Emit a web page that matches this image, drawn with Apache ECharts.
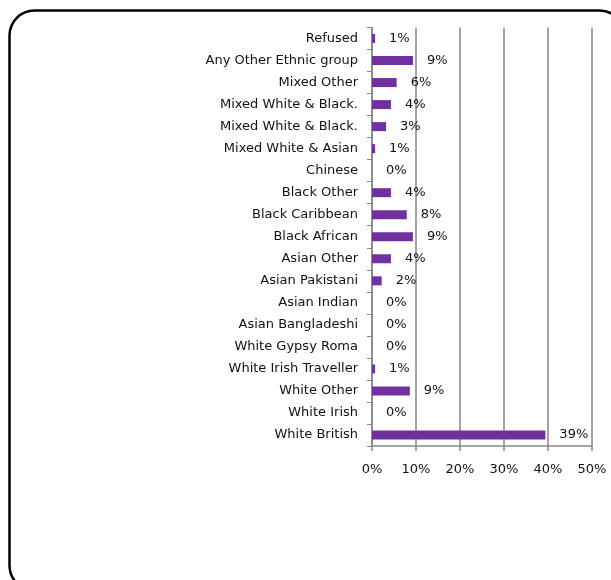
<!DOCTYPE html>
<html>
<head>
<meta charset="utf-8">
<script src="https://cdn.jsdelivr.net/npm/echarts@6/dist/echarts.min.js"></script>
<style>
html,body{margin:0;padding:0;background:#fff;}
#chart{width:611px;height:580px;}
</style>
</head>
<body>
<div id="chart"></div>
<script>
// Categories listed bottom to top
const categories = [
  'White British','White Irish','White Other','White Irish Traveller','White Gypsy Roma',
  'Asian Bangladeshi','Asian Indian','Asian Pakistani','Asian Other','Black African',
  'Black Caribbean','Black Other','Chinese','Mixed White & Asian','Mixed White & Black.',
  'Mixed White & Black.','Mixed Other','Any Other Ethnic group','Refused'
];
const values = [39.4, 0, 8.6, 0.7, 0, 0, 0, 2.2, 4.3, 9.3, 7.9, 4.3, 0, 0.7, 3.2, 4.3, 5.6, 9.3, 0.7];
const xTicks = [0, 10, 20, 30, 40, 50];

const chart = echarts.init(document.getElementById('chart'), null, {renderer: 'canvas'});
const font = 'DejaVu Sans';
chart.setOption({
  animation: false,
  backgroundColor: '#fff',
  grid: {left: 372, right: 19, top: 27.5, bottom: 134, containLabel: false},
  xAxis: {
    type: 'value',
    min: xTicks[0],
    max: xTicks[xTicks.length - 1],
    interval: 10,
    axisLine: {show: true, lineStyle: {color: '#868686', width: 1.5}},
    axisTick: {show: true, length: 5, lineStyle: {color: '#868686', width: 1.5}},
    splitLine: {show: true, lineStyle: {color: '#868686', width: 1.5}},
    axisLabel: {formatter: v => v + '%', fontFamily: font, fontSize: 13, color: '#111', margin: 17}
  },
  yAxis: {
    type: 'category',
    data: categories,
    axisLine: {show: true, lineStyle: {color: '#868686', width: 1.5}},
    axisTick: {show: true, length: 5, lineStyle: {color: '#868686'}},
    axisLabel: {fontFamily: font, fontSize: 13, color: '#111', margin: 14, interval: 0}
  },
  series: [{
    type: 'bar',
    data: values,
    barWidth: 9,
    itemStyle: {color: '#7030A0'},
    label: {
      show: true,
      position: 'right',
      distance: 14,
      formatter: p => Math.round(p.value) + '%',
      fontFamily: font, fontSize: 13, color: '#111'
    }
  }],
  graphic: [{
    type: 'rect',
    silent: true,
    shape: {x: 9.5, y: 10.5, width: 615, height: 580, r: 25},
    style: {fill: 'none', stroke: '#000', lineWidth: 2.5}
  }]
});
</script>
</body>
</html>
